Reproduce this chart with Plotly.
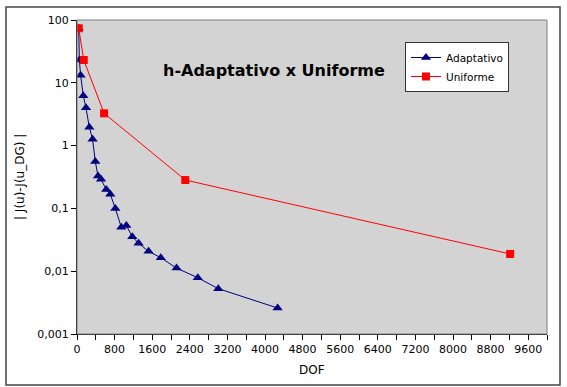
import plotly.graph_objects as go

# Data
adapt_dof = [36, 50, 77, 134, 191, 262, 332, 389, 447, 511, 623, 709, 815, 943, 1049,
             1177, 1311, 1523, 1783, 2119, 2570, 3006, 4268]
adapt_err = [73.8, 23.1, 13.2, 6.2, 4.0, 1.96, 1.26, 0.56, 0.328, 0.29, 0.2, 0.168, 0.1,
             0.05, 0.0534, 0.0354, 0.0278, 0.0207, 0.0164, 0.0112, 0.00787, 0.00527, 0.00259]
unif_dof = [36, 144, 576, 2304, 9216]
unif_err = [73.8, 23.1, 3.27, 0.283, 0.0188]

x_ticks = list(range(0, 10000, 800))
y_ticks = [0.001, 0.01, 0.1, 1, 10, 100]
y_labels = ["0,001", "0,01", "0,1", "1", "10", "100"]

fig = go.Figure()
fig.add_trace(go.Scatter(x=adapt_dof, y=adapt_err, mode="lines+markers", name="Adaptativo",
                         line=dict(color="#000080", width=1),
                         marker=dict(symbol="triangle-up", size=9, color="#000080")))
fig.add_trace(go.Scatter(x=unif_dof, y=unif_err, mode="lines+markers", name="Uniforme",
                         line=dict(color="#FF0000", width=1),
                         marker=dict(symbol="square", size=8, color="#FF0000")))

W, H = 567, 387
L, R, T, B = 77, 547, 20, 334

def px(x):
    return (x - L) / (R - L)

def py(y):
    return (B - y) / (B - T)

fig.update_layout(
    width=W, height=H,
    margin=dict(l=L, r=W - R, t=T, b=H - B, autoexpand=False),
    paper_bgcolor="white", plot_bgcolor="#d3d3d3",
    font=dict(family="DejaVu Sans", size=11, color="black"),
    showlegend=True,
    legend=dict(x=px(405), y=py(42), xanchor="left", yanchor="top",
                bgcolor="white", bordercolor="#333333", borderwidth=1,
                font=dict(size=10.5), tracegroupgap=0),
    annotations=[
        dict(text="<b>h-Adaptativo x Uniforme</b>", x=px(274), y=py(71),
             xanchor="center", yanchor="middle",
             xref="paper", yref="paper", showarrow=False,
             font=dict(size=16, color="black")),
        dict(text="| J(u)-J(u_DG) |", x=px(20), y=py(177), textangle=-90,
             xanchor="center", yanchor="middle",
             xref="paper", yref="paper", showarrow=False,
             font=dict(size=12, color="black")),
        dict(text="DOF", x=px(312), y=py(370),
             xanchor="center", yanchor="middle",
             xref="paper", yref="paper", showarrow=False,
             font=dict(size=12, color="black")),
    ],
    shapes=[dict(type="rect", xref="paper", yref="paper",
                 x0=px(6), x1=px(560), y0=py(385), y1=py(7),
                 line=dict(color="#444444", width=1.5)),
            dict(type="rect", xref="paper", yref="paper", x0=0, x1=1, y0=0, y1=1,
                 line=dict(color="#808080", width=1))],
)
fig.update_xaxes(range=[0, 10000], tickvals=x_ticks, ticks="outside", ticklen=5,
                 tickcolor="black", showline=True, linecolor="black", linewidth=1,
                 showgrid=False, zeroline=False,
                 minor=dict(dtick=400, tick0=0, ticks="outside", ticklen=5, tickcolor="black"),
                 tickfont=dict(size=11))
fig.update_yaxes(type="log", range=[-3, 2], tickvals=y_ticks, ticktext=y_labels,
                 ticks="outside", ticklen=5, tickcolor="black", showline=True,
                 linecolor="black", linewidth=1, showgrid=False, zeroline=False,
                 tickfont=dict(size=11))

fig.write_html("out.html", config={"displayModeBar": False},
               post_script="document.body.style.margin='0';")
